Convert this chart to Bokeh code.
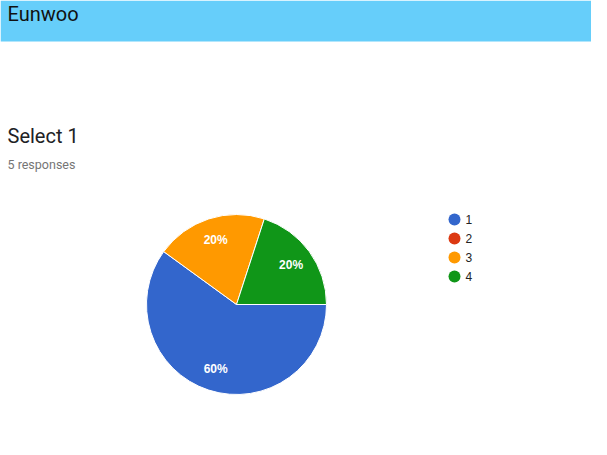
import math
from bokeh.plotting import figure
from bokeh.models import Range1d, ColumnDataSource
from bokeh.core.properties import value
from bokeh.embed import file_html
from bokeh.resources import INLINE

# ---- data ----
header_title = "Eunwoo"
question = "Select 1"
responses_text = "5 responses"
categories = ["1", "2", "3", "4"]
counts = [3, 0, 1, 1]
colors = ["#3366cc", "#dc3912", "#ff9900", "#109618"]

W, H = 591, 439
p = figure(width=W, height=H, output_backend="svg", toolbar_location=None,
           x_range=Range1d(0, W), y_range=Range1d(0, H), min_border=0)
p.axis.visible = False
p.grid.visible = False
p.outline_line_color = None
p.background_fill_color = "white"
p.border_fill_color = "white"

# header band
p.quad(left=0, right=W, bottom=H - 41, top=H, fill_color="#66cefa", line_color=None)
p.text(x=[7], y=[H - 13], text=[header_title], text_font=value("Roboto"),
       text_font_size="20px", text_font_style="normal", text_color="#111111",
       text_baseline="middle", text_align="left")

p.text(x=[7], y=[304], text=[question], text_font=value("Roboto"),
       text_font_size="20px", text_color="#202124", text_baseline="middle", text_align="left")
p.text(x=[7], y=[275], text=[responses_text], text_font=value("Roboto"),
       text_font_size="12.5px", text_color="#757575", text_baseline="middle", text_align="left")

# pie
cx, cy, r = 236, 135, 90
total = sum(counts)
starts, ends, cols, lx, ly, labels = [], [], [], [], [], []
cum = 0
for c, col in zip(counts, colors):
    if c > 0:
        a0 = -2 * math.pi * cum / total
        a1 = -2 * math.pi * (cum + c) / total
        starts.append(a0)
        ends.append(a1)
        cols.append(col)
        mid = (a0 + a1) / 2
        lx.append(cx + 0.75 * r * math.cos(mid))
        ly.append(cy + 0.75 * r * math.sin(mid))
        labels.append(f"{round(100 * c / total)}%")
    cum += c

src = ColumnDataSource(dict(start=starts, end=ends, color=cols))
p.wedge(x=cx, y=cy, radius=r, start_angle="start", end_angle="end", direction="clock",
        fill_color="color", line_color="white", line_width=1, source=src)
p.text(x=lx, y=ly, text=labels, text_font=value("Liberation Sans"), text_font_size="12px",
       text_font_style="bold", text_color="white", text_align="center", text_baseline="middle")

# legend
leg_y = [220 - 19 * i for i in range(len(categories))]
p.scatter(x=[454] * len(categories), y=leg_y, size=12, fill_color=colors, line_color=None)
p.text(x=[465] * len(categories), y=leg_y, text=categories, text_font=value("Liberation Sans"),
       text_font_size="12px", text_color="#222222", text_baseline="middle", text_align="left")

open("out.html", "w").write(file_html(p, INLINE))
